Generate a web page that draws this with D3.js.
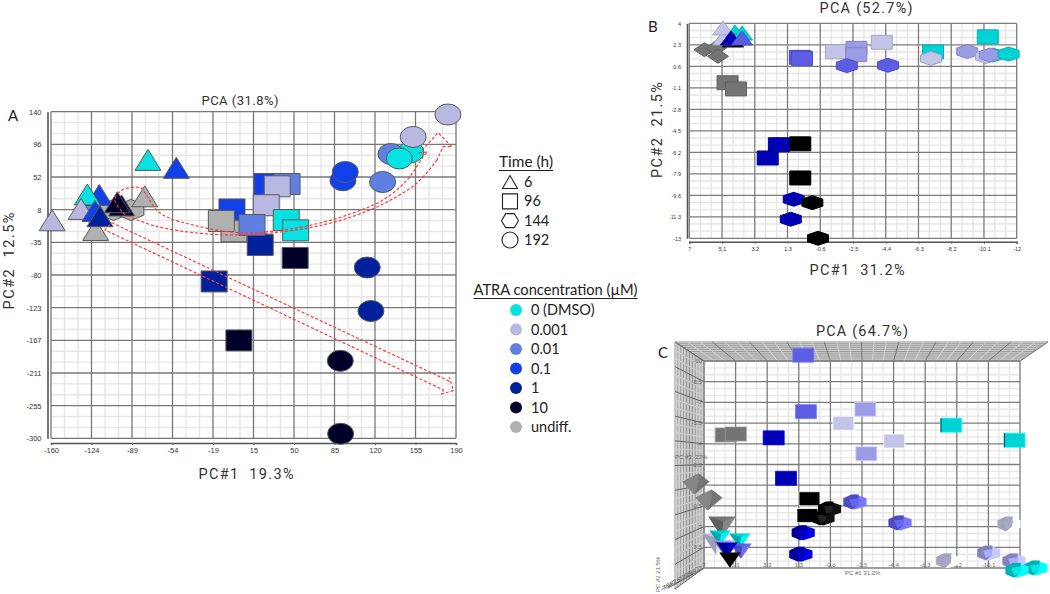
<!DOCTYPE html>
<html><head><meta charset="utf-8">
<script src="https://cdn.jsdelivr.net/npm/d3@7/dist/d3.min.js"></script>
<style>
html,body{margin:0;padding:0;background:#fff}
svg{display:block}
text{font-family:Lato,"Open Sans",sans-serif;fill:#222}
.tick text,.small{font-family:"Liberation Sans",Arial,sans-serif}
.title{font-family:Roboto,"Open Sans",sans-serif;fill:#333}
</style></head><body>
<svg id="c" width="1050" height="594"></svg>
<script>
// ---- categories ----
const timeLabels=[6,96,144,192];
const concLabels=['0 (DMSO)','0.001','0.01','0.1','1','10','undiff.'];
// ---- tick labels ----
const xTicksA=[-160,-124,-89,-54,-19,15,50,85,120,155,190];
const yTicksA=[140,96,52,8,-35,-80,-123,-167,-211,-255,-300];
const xTicksB=[7,5.1,3.2,1.3,-0.6,-2.5,-4.4,-6.3,-8.2,-10.1,-12];
const yTicksB=['4','2.3','0.6','-1.1','-2.8','-4.5','-6.2','-7.9','-9.6','11.3','-13'];
const xTicksC=[7,5.1,3.2,1.3,-0.6,-2.5,-4.4,-6.3,-8.2,-10.1,-12];
const yTicksC=[-10,-8.5,-7,-5.5,-4,-2.5,-1,0.5,2,3.5,5];
const depthTicksC=[-9,-7.4,-5.8,-4.2,-2.6,-1,0.6,2.2,3.8,5.4,7];
// ---- values: [time, concentration index, PC1, PC2] in drawing order ----
const panelA=[
[144,6,-106,7.6],[144,6,-91,7.6],
[6,2,-124.6,14.3],[6,3,-118.3,27.8],[6,0,-128.6,28.5],[6,1,-134,9],[6,3,-122,6.3],[6,6,-121.4,-19.4],[6,4,-117.7,-0.8],
[6,6,-79,26],[6,5,-99,13.7],[6,5,-102.7,18],[6,1,-159,-6.3],[6,0,-76.2,75],[6,3,-51.7,64.4],
[96,6,-1.9,-21],[96,3,-3.6,8.3],[96,6,-12.8,-7.2],[96,3,26.6,42.6],[96,2,44,42.6],[96,1,35.5,39.5],[96,1,26,14],
[96,4,20.8,-39.5],[96,2,13.7,-12.6],[96,0,43.3,-6],[96,0,51.4,-19.8],[96,5,51,-57],[96,4,-19,-88.7],[96,5,2.4,-168.2],
[192,0,151,85.7],[192,2,133.8,83],[192,0,141,77],[192,1,153,106],[192,1,183,136.2],[192,3,92.3,47.6],[192,3,94.3,58.8],
[192,2,126.6,45.3],[192,4,113.3,-69.9],[192,4,116.5,-128.5],[192,5,90,-195.6],[192,5,90.3,-293.9]
];
const panelB=[
[144,6,6.12,1.91],[144,6,5.45,2.05],[144,6,5.33,1.39],
[6,0,4.35,3.31],[6,5,4.46,2.68],[6,1,5.04,2.84],[6,1,5.04,3.63],[6,0,3.94,3.23],[6,4,4.58,2.84],[6,3,3.94,2.84],
[96,6,4.78,-0.7],[96,6,4.29,-1.19],[96,3,0.58,1.31],[96,3,0.46,1.23],[96,1,-1.51,1.75],[96,2,-2.7,2.02],[96,2,-2.69,1.52],
[96,1,-4.17,2.5],[96,0,-7.14,1.73],[96,0,-10.32,2.93],
[144,3,-2.14,0.65],[144,3,-4.53,0.68],[144,1,-7.03,1.22],[144,2,-9.13,1.77],[144,0,-10.63,1.49],[144,1,-10.22,1.38],[144,2,-10.45,1.49],[144,0,-11.53,1.57],
[96,4,1.8,-5.6],[96,4,2.45,-6.65],[96,5,0.56,-5.53],[96,5,0.56,-8.23],
[144,4,0.94,-9.91],[144,5,-0.14,-10.18],[144,4,1.11,-11.49],[144,5,-0.47,-13]
];
const panelC=[
[96,3,1.03,-10.42],[96,3,0.87,-6.33],[96,2,-2.7,-6.5],[96,1,-1.38,-5.49],[96,0,-7.86,-5.35],[96,1,-4.44,-4.2],[96,2,-2.76,-3.28],
[96,0,-11.67,-4.26],[96,6,5.69,-4.64],[96,6,5.09,-4.71],[96,4,2.81,-4.43],[96,4,2.07,-1.5],[96,5,0.66,-0.02],[96,5,0.78,1.2],
[144,5,-0.16,1.38],[144,5,-0.55,0.72],[144,3,-2.08,0.22],[144,3,-4.79,1.74],[144,4,1.03,2.45],[144,4,1.17,4],
[144,1,-11.34,1.81],[144,1,-7.65,4.48],[144,2,-10.12,3.91],[144,2,-11.64,4.49],[144,0,-12.96,5],[144,0,-11.82,5.17],
[6,6,7.48,-1.09],[6,6,6.7,0.07],[6,6,5.92,2.03],[6,1,6.28,3.26],[6,0,6.04,2.83],[6,0,4.84,3.04],[6,3,4.78,3.77],[6,2,5.8,3.55],[6,4,5.62,3.7],[6,5,5.44,4.42]
];
// ---- annotation arrows in panel A data units ----
const curveUpper=[[-96,0.9],[-104.7,21],[-98.6,34.5],[-83.1,37.9],[-80.5,34.5],[-65.8,3.5],[-33.8,-14],[3.3,-23],[40.5,-19.3],[72.5,-9.9],[101,3.5],[126.9,21],[147.7,48],[161.5,79],[164.9,85.7]];
const curveHead=[[164.9,85.7],[158.9,84.8],[174.4,111.7],[186.5,92.9],[178.8,92.9],[173.6,75]];
const curveLower=[[173.6,75],[156.3,44],[130.4,18.4],[104.4,0.9],[75,-12.6],[40.5,-21.6],[3.3,-26],[-33.8,-23.4],[-70.1,-14],[-96,0.9]];
const straightArrow=[[-107.6,-9.5],[183.9,-222.8],[184.3,-218],[187.8,-235.8],[177.6,-240.2],[179.1,-234.9],[-113.3,-19.4],[-107.6,-9.5]];

const colorsA=['#04e2e2','#b8b8e2','#5f80e0','#1240e8','#00209c','#00002a','#b0b0b0'];
const colorsBC=['#00d3d3','#c4c4e8','#9c9ce6','#5c5ce4','#0000b4','#000000','#747474'];

const svg=d3.select('#c');
const poly=pts=>'M'+pts.map(p=>p.join(',')).join('L')+'Z';
function shapePath(kind,w,h){
  const a=w/2,b=h/2;
  switch(kind){
    case 'tri':return poly([[0,-b],[a,b],[-a,b]]);
    case 'sq':return poly([[-a,-b],[a,-b],[a,b],[-a,b]]);
    case 'hex':return poly([[0,-b],[a,-b/2],[a,b/2],[0,b],[-a,b/2],[-a,-b/2]]);
    case 'hexflat':return poly([[-a,0],[-a/2,-b],[a/2,-b],[a,0],[a/2,b],[-a/2,b]]);
    case 'dia':return poly([[0,-b],[a,0],[0,b],[-a,0]]);
    case 'circ':return `M${-a},0A${a},${b} 0 1 1 ${a},0A${a},${b} 0 1 1 ${-a},0Z`;
  }
}
function grid(g,xs,ys,major,minor){
  const mins=v=>d3.pairs(v).flatMap(([p,q])=>[p+(q-p)/3,p+2*(q-p)/3]);
  const [x0,x1]=d3.extent(xs),[y0,y1]=d3.extent(ys);
  g.selectAll('.vm').data(mins(xs)).join('line').attr('x1',d=>d).attr('x2',d=>d).attr('y1',y0).attr('y2',y1).attr('stroke',minor).attr('stroke-width',1.4);
  g.selectAll('.hm').data(mins(ys)).join('line').attr('x1',x0).attr('x2',x1).attr('y1',d=>d).attr('y2',d=>d).attr('stroke',minor).attr('stroke-width',1.4);
  g.selectAll('.vM').data(xs).join('line').attr('x1',d=>d).attr('x2',d=>d).attr('y1',y0).attr('y2',y1).attr('stroke',major).attr('stroke-width',1.3);
  g.selectAll('.hM').data(ys).join('line').attr('x1',x0).attr('x2',x1).attr('y1',d=>d).attr('y2',d=>d).attr('stroke',major).attr('stroke-width',1.3);
}
function axes(xp,yp,axisY,axisX,fs,col){
  const bottom=svg.append('g').attr('transform',`translate(0,${axisY})`).call(d3.axisBottom(xp).tickSize(2).tickPadding(3));
  const left=svg.append('g').attr('transform',`translate(${axisX},0)`).call(d3.axisLeft(yp).tickSize(0).tickPadding(6));
  [bottom,left].forEach(a=>{
    a.selectAll('.domain').attr('stroke','#555').attr('stroke-width',1.6);
    a.selectAll('line').attr('stroke','#555');
    a.selectAll('text').attr('font-size',fs).style('fill',col);
  });
}
function plot2d(rows,xs,ys,colors,w,h,stroke,kindOf){
  svg.append('g').selectAll('path').data(rows).join('path')
    .attr('transform',d=>`translate(${xs(d[2])},${ys(d[3])})`)
    .attr('d',d=>shapePath(kindOf(d),w,h))
    .attr('fill',d=>colors[d[1]])
    .attr('stroke',d=>stroke(colors[d[1]]))
    .attr('stroke-width',1);
}
const label=(x,y,t,fs)=>svg.append('text').attr('x',x).attr('y',y).attr('font-size',fs).text(t);
const title=(x,y,t,fs,w,rot)=>{
  const n=svg.append('text').attr('class','title').attr('x',x).attr('y',y).attr('font-size',fs)
    .attr('text-anchor','middle').attr('textLength',w).attr('lengthAdjust','spacing').text(t);
  if(rot)n.attr('transform',`rotate(-90 ${x} ${y})`);
  return n;
};
const kind={6:'tri',96:'sq',144:'hex',192:'circ'};

// ---------- Panel A ----------
const xA=d3.scaleLinear().domain([-160,190]).range([51,456]);
const yA=d3.scaleLinear().domain([140,-300]).range([111.7,438.3]);
const xAp=d3.scalePoint().domain(xTicksA).range([51,456]);
const yAp=d3.scalePoint().domain(yTicksA).range([111.7,438.3]);
grid(svg.append('g'),xTicksA.map(xAp),yTicksA.map(yAp),'#787878','#e6e6e6');
axes(xAp,yAp,443,47.5,7.5,'#333');
plot2d(panelA,xA,yA,colorsA,26,21,()=>'#5a5a5a',d=>kind[d[0]]);
const lineA=d3.line().x(d=>xA(d[0])).y(d=>yA(d[1]));
const smoothA=d3.line().x(d=>xA(d[0])).y(d=>yA(d[1])).curve(d3.curveCatmullRom);
const arrows=svg.append('g').attr('fill','none').attr('stroke','#ff3a3a').attr('stroke-width',1.2).attr('stroke-dasharray','3 2');
arrows.append('path').attr('d',smoothA(curveUpper));
arrows.append('path').attr('d',lineA(curveHead));
arrows.append('path').attr('d',smoothA(curveLower));
arrows.append('path').attr('d',lineA(straightArrow));
label(8,121,'A',15);
title(240,105,'PCA (31.8%)',13,77);
title(246,479,'PC#1\u00a0\u00a019.3%',14.5,95);
title(14,261,'PC#2\u00a0\u00a012.5%',14.5,97,true);

// ---------- Legends ----------
const lg=svg.append('g');
const legendTitle=(x,y,t,w)=>{
  lg.append('text').attr('x',x).attr('y',y).attr('font-size',15).attr('textLength',w).attr('lengthAdjust','spacingAndGlyphs').text(t);
  lg.append('line').attr('x1',x).attr('x2',x+w).attr('y1',y+3.5).attr('y2',y+3.5).attr('stroke','#222').attr('stroke-width',1);
};
legendTitle(499,167,'Time (h)',54);
const timeY=d3.scalePoint().domain(timeLabels).range([182,240]);
const legendKind={6:'tri',96:'sq',144:'hexflat',192:'circ'};
const legendSize={6:[15,13],96:[15,15],144:[17,14],192:[16,16]};
timeLabels.forEach(t=>{
  lg.append('path').attr('transform',`translate(510,${timeY(t)})`).attr('d',shapePath(legendKind[t],...legendSize[t])).attr('fill','#fff').attr('stroke','#222').attr('stroke-width',1.1);
  lg.append('text').attr('x',524).attr('y',timeY(t)+5).attr('font-size',14.5).text(t);
});
legendTitle(473.5,295,'ATRA concentration (\u00b5M)',164);
const concY=d3.scalePoint().domain(concLabels).range([310,427]);
concLabels.forEach((c,i)=>{
  lg.append('circle').attr('cx',516).attr('cy',concY(c)).attr('r',6).attr('fill',colorsA[i]);
  lg.append('text').attr('x',531).attr('y',concY(c)+5).attr('font-size',14.5).text(c);
});

// ---------- Panel B ----------
const xB=d3.scaleLinear().domain([7,-12]).range([689.3,1016.7]);
const yB=d3.scaleLinear().domain([4,-13]).range([23.3,238.3]);
const yBp=d3.scalePoint().domain(yTicksB).range([23.3,238.3]);
const xBp=d3.scalePoint().domain(xTicksB).range([689.3,1016.7]);
grid(svg.append('g'),xTicksB.map(xBp),yTicksB.map(yBp),'#7c7c7c','#e6e6e6');
axes(xBp,yBp,241.7,687,5.5,'#333');
plot2d(panelB,xB,yB,colorsBC,21,14,c=>d3.color(c).darker(0.5).formatHex(),
  d=>d[0]===144&&d[1]===6?'dia':kind[d[0]]);
label(648,32,'B',15);
title(866,13.4,'PCA (52.7%)',14.4,93);
title(857,275,'PC#1\u00a0\u00a031.2%',14.5,95);
title(662,130,'PC#2\u00a0\u00a021.5%',14.5,96,true);

// ---------- Panel C ----------
const xC=d3.scaleLinear().domain([7,-12]).range([704,1020]);
const yC=d3.scaleLinear().domain([-10,5]).range([361,568]);
const xCp=d3.scalePoint().domain(xTicksC).range([704,1020]);
const yCp=d3.scalePoint().domain(yTicksC).range([361,568]);
const depthP=d3.scalePoint().domain(depthTicksC).range([0,1]);
const frontX=d3.scaleLinear().domain([704,1020]).range([675,1048]);
const frontY=d3.scaleLinear().domain([361,568]).range([342,589]);
const lerp=(a,b,t)=>a+(b-a)*t;
const gw=svg.append('g');
const thirds=v=>d3.pairs(v).flatMap(([p,q])=>[p,p+(q-p)/3,p+2*(q-p)/3]).concat(v[v.length-1]);
const depthF=thirds(depthTicksC.map(depthP));
const wallLine=(x1,y1,x2,y2,col)=>gw.append('line').attr('x1',x1).attr('y1',y1).attr('x2',x2).attr('y2',y2).attr('stroke',col).attr('stroke-width',1);
depthF.forEach((t,i)=>{
  const c=i%3===0?'#8a8a8a':'#c4c4c4';
  wallLine(lerp(675,704,t),lerp(342,361,t),lerp(1048,1020,t),lerp(342,361,t),c);
  wallLine(lerp(675,704,t),lerp(342,361,t),lerp(675,704,t),lerp(589,568,t),c);
});
thirds(xTicksC.map(xCp)).forEach((x,i)=>wallLine(x,361,frontX(x),342,i%3===0?'#777':'#d4d4d4'));
thirds(yTicksC.map(yCp)).forEach((y,i)=>wallLine(704,y,675,frontY(y),i%3===0?'#666':'#cfcfcf'));
wallLine(704,568,668,588,'#666');
grid(svg.append('g'),xTicksC.map(xCp),yTicksC.map(yCp),'#7c7c7c','#e8e8e8');
const cTicks=svg.append('g').attr('class','small').attr('font-size',6);
cTicks.selectAll('.xl').data(xTicksC).join('text').attr('x',d=>xCp(d)).attr('y',567).attr('text-anchor','middle').style('fill','#666').text(d=>d);
cTicks.selectAll('.yl').data(yTicksC).join('text').attr('x',702).attr('y',d=>yCp(d)+2).attr('text-anchor','end').style('fill','#666').text(d=>d);
cTicks.selectAll('.dl').data(depthTicksC).join('text')
  .attr('transform',d=>{const t=depthP(d);return `translate(${lerp(668,700,t)},${lerp(588,570,t)}) rotate(-30)`;})
  .attr('text-anchor','end').style('fill','#666').text(d=>d);
// squares, hexagonal solids, pyramids
const gc=svg.append('g');
panelC.forEach(d=>{
  const col=colorsBC[d[1]],cx=xC(d[2]),cy=yC(d[3]);
  const g=gc.append('g').attr('transform',`translate(${cx},${cy})`);
  if(d[0]===96){
    const halo=d3.color(col).brighter(0.8).formatHex();
    g.append('path').attr('d',shapePath('sq',21,14)).attr('fill',col).attr('stroke',d[1]===5?'#fff':halo).attr('stroke-width',0.8);
    if(d[1]===0)g.append('line').attr('x1',-10).attr('x2',-10).attr('y1',-7).attr('y2',7).attr('stroke','#1a5a5a').attr('stroke-width',1.2);
  } else if(d[0]===144){
    const w=23,h=15,a=w/2,b=h/2;
    const dark=d[1]===5?'#000':d3.color(col).darker(0.5).formatHex();
    const light=d[1]===1?'#ffffff':(d[1]===5?'#111':d3.color(col).brighter(0.7).formatHex());
    const face=d[1]===1?'#a9a9c6':(d[1]===5?'#222':d3.color(col).brighter(0.25).formatHex());
    g.append('path').attr('d',shapePath('hex',w,h)).attr('fill',light);
    g.append('path').attr('d',poly([[-a,-b/2],[-a/3,-b],[a/3,-b],[a/4,b/3],[-a/4,b],[-a,b/2]])).attr('fill',dark);
    g.append('path').attr('d',poly([[-a/2,-b/3],[a/3,-b/2],[a/4,b/3],[-a/4,b*0.7]])).attr('fill',face);
  } else {
    const big=d[1]===1||d[1]===6;
    const w=big?27:21,h=big?21:15,a=w/2,b=h/2;
    const dark=d3.color(col).darker(0.6).formatHex();
    const light=d3.color(col).brighter(0.4).formatHex();
    if(d[1]===6&&d[3]<1){
      // upper pyramids seen at a steeper angle: a kite instead of a triangle
      g.append('path').attr('d',poly([[-a,-b*0.2],[a*0.2,-b],[a,-b*0.2],[-a*0.1,b]])).attr('fill',col);
      g.append('path').attr('d',poly([[-a,-b*0.2],[a*0.2,-b],[a*0.2,-b*0.2],[-a*0.1,b]])).attr('fill',light);
    } else {
      g.append('path').attr('d',poly([[-a,-b],[a,-b],[0,b]])).attr('fill',col);
      g.append('path').attr('d',poly([[-a,-b],[a*0.1,-b*0.55],[0,b]])).attr('fill',dark);
      g.append('path').attr('d',poly([[a,-b],[a*0.1,-b*0.55],[0,b]])).attr('fill',light);
    }
  }
});
label(658,358,'C',15);
title(862,336,'PCA (64.7%)',14.4,92);
svg.append('text').attr('class','small').attr('x',675).attr('y',459).attr('font-size',6).style('fill','#666').text('PC #3 -22%');
svg.append('text').attr('class','small').attr('x',845).attr('y',575).attr('font-size',6).style('fill','#666').text('PC #1 31.2%');
svg.append('text').attr('class','small').attr('transform','translate(660,592) rotate(-90)').attr('font-size',6).style('fill','#666').text('PC #2 21.5%');
</script></body></html>
